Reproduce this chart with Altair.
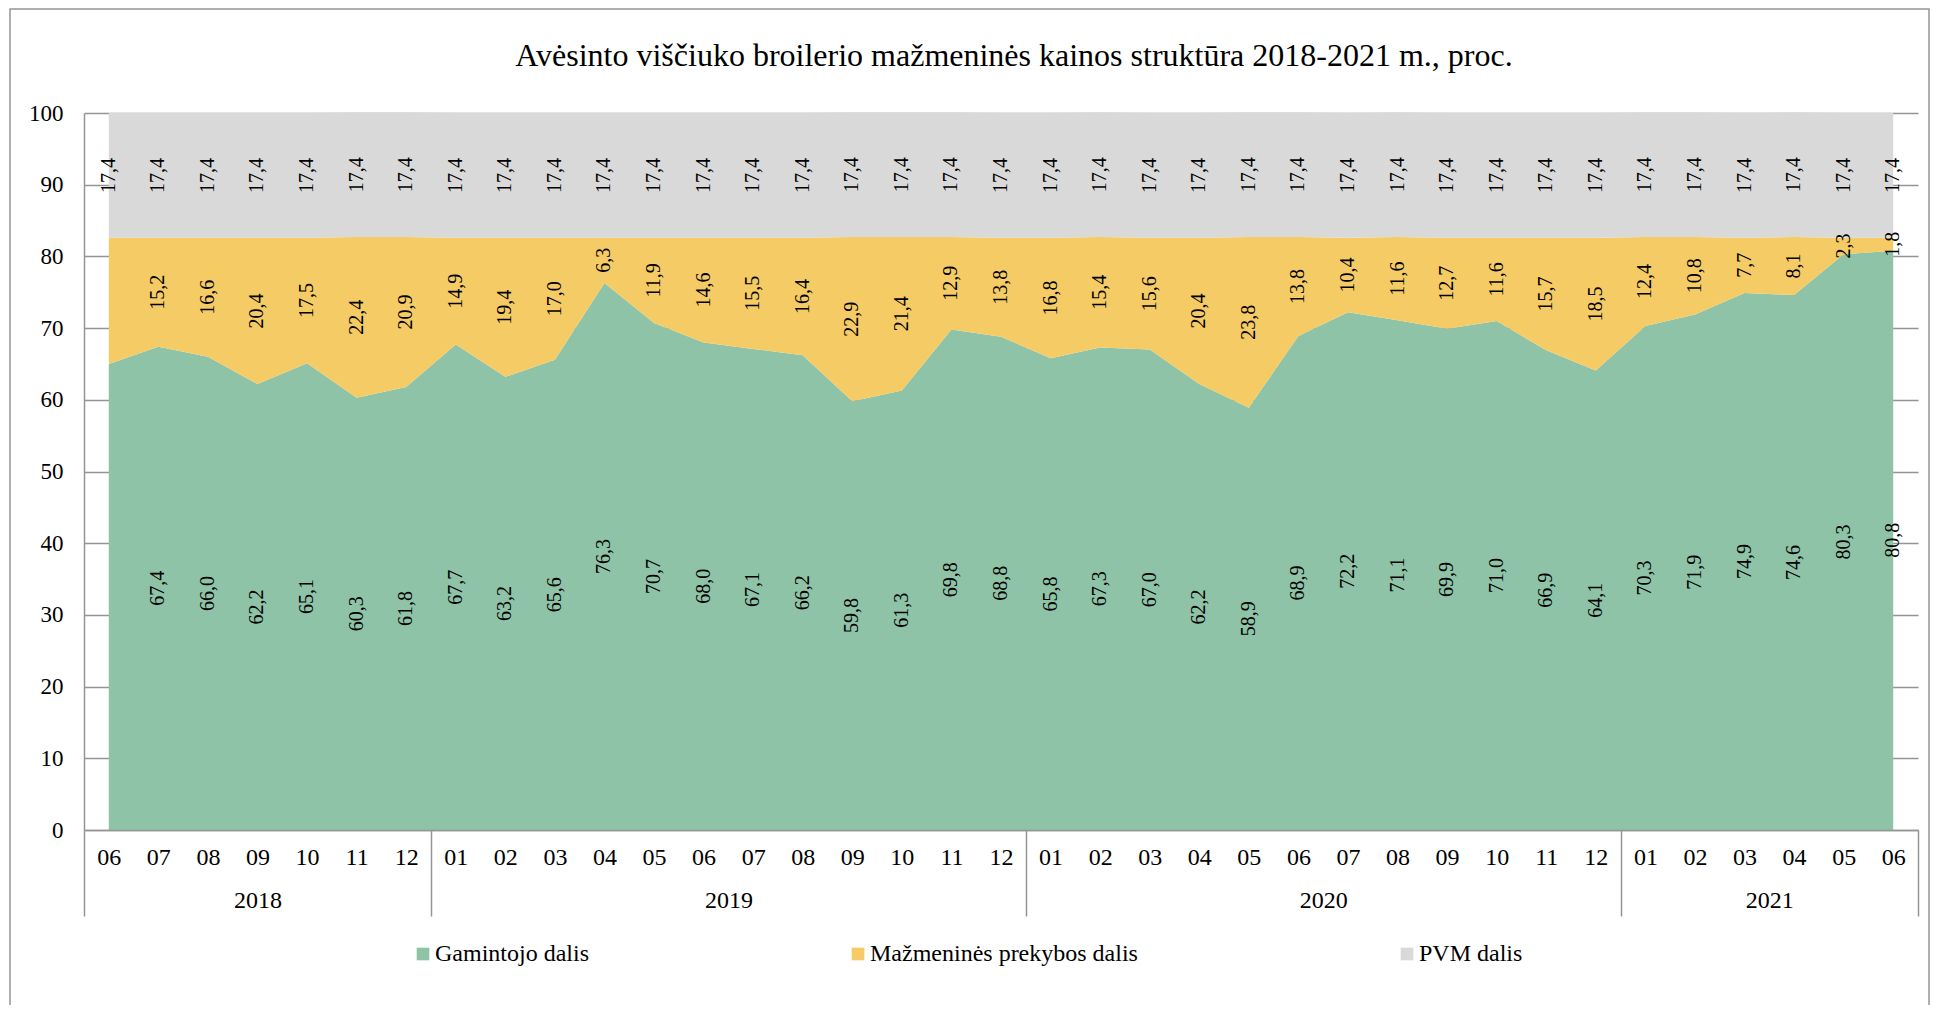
import altair as alt
import pandas as pd

# ---- data ----
periods = [
    "2018-06", "2018-07", "2018-08", "2018-09", "2018-10", "2018-11", "2018-12",
    "2019-01", "2019-02", "2019-03", "2019-04", "2019-05", "2019-06", "2019-07",
    "2019-08", "2019-09", "2019-10", "2019-11", "2019-12",
    "2020-01", "2020-02", "2020-03", "2020-04", "2020-05", "2020-06", "2020-07",
    "2020-08", "2020-09", "2020-10", "2020-11", "2020-12",
    "2021-01", "2021-02", "2021-03", "2021-04", "2021-05", "2021-06",
]
gamintojo = [65.0, 67.4, 66.0, 62.2, 65.1, 60.3, 61.8,
             67.7, 63.2, 65.6, 76.3, 70.7, 68.0, 67.1, 66.2, 59.8, 61.3, 69.8, 68.8,
             65.8, 67.3, 67.0, 62.2, 58.9, 68.9, 72.2, 71.1, 69.9, 71.0, 66.9, 64.1,
             70.3, 71.9, 74.9, 74.6, 80.3, 80.8]
mazmenines = [17.6, 15.2, 16.6, 20.4, 17.5, 22.4, 20.9,
              14.9, 19.4, 17.0, 6.3, 11.9, 14.6, 15.5, 16.4, 22.9, 21.4, 12.9, 13.8,
              16.8, 15.4, 15.6, 20.4, 23.8, 13.8, 10.4, 11.6, 12.7, 11.6, 15.7, 18.5,
              12.4, 10.8, 7.7, 8.1, 2.3, 1.8]
pvm = [17.4, 17.4, 17.4, 17.4, 17.4, 17.4, 17.4,
       17.4, 17.4, 17.4, 17.4, 17.4, 17.4, 17.4, 17.4, 17.4, 17.4, 17.4, 17.4,
       17.4, 17.4, 17.4, 17.4, 17.4, 17.4, 17.4, 17.4, 17.4, 17.4, 17.4, 17.4,
       17.4, 17.4, 17.4, 17.4, 17.4, 17.4]
series_names = ["Gamintojo dalis", "Mažmeninės prekybos dalis", "PVM dalis"]
series_colors = ["#8EC3A7", "#F5CB65", "#D9D9D9"]
years = ["2018", "2019", "2020", "2021"]
months_per_year = [7, 12, 12, 6]
y_ticks = [0, 10, 20, 30, 40, 50, 60, 70, 80, 90, 100]
title_text = "Avėsinto viščiuko broilerio mažmeninės kainos struktūra 2018-2021 m., proc."

# ---- tables built from the lists ----
rows = []
for s_i, (name, vals) in enumerate(zip(series_names, [gamintojo, mazmenines, pvm])):
    for idx, (p, v) in enumerate(zip(periods, vals)):
        rows.append({"period": p, "idx": idx, "xpos": idx + 0.5, "series": name,
                     "value": v, "order": s_i})
df = pd.DataFrame(rows)

starts, centers = [], []
acc = 0
for c in months_per_year:
    starts.append(acc)
    centers.append(acc + c / 2)
    acc += c
total = acc
boundaries = starts + [total]
year_df = pd.DataFrame({"year": years, "center": centers})

month_vals = [i + 0.5 for i in range(len(periods))]
months_js = "[" + ",".join("'" + p[5:] + "'" for p in periods) + "]"
centers_js = "[" + ",".join(str(c) for c in centers) + "]"
years_js = "[" + ",".join("'" + y + "'" for y in years) + "]"
bounds_js = "[" + ",".join(str(b) for b in boundaries) + "]"

SERIF = "Liberation Serif"
GRAY = "#959595"

x_scale = alt.Scale(domain=[0, total], nice=False, zero=False)
y_scale = alt.Scale(domain=[0, 100], nice=False)

y_axis = alt.Axis(
    title=None, orient="left", values=y_ticks, grid=True, gridColor=GRAY,
    gridWidth=1.5, ticks=False, domain=True, domainColor=GRAY, domainWidth=1.5,
    labelFont=SERIF, labelFontSize=23, labelColor="black", labelPadding=21,
)

color = alt.Color(
    "series:N",
    scale=alt.Scale(domain=series_names, range=series_colors),
    legend=alt.Legend(
        title=None, orient="none", direction="horizontal",
        legendX=327, legendY=829, padding=0,
        symbolType="square", symbolSize=160, symbolStrokeWidth=0, symbolOpacity=1,
        labelFont=SERIF, labelFontSize=24, labelColor="black", labelLimit=500,
        labelOffset=0, columnPadding=257,
    ),
)

area = alt.Chart(df).mark_area(opacity=1, strokeWidth=0).encode(
    x=alt.X(
        "xpos:Q", scale=x_scale,
        axis=alt.Axis(
            title=None, orient="bottom", values=month_vals,
            labelExpr=f"{months_js}[floor(datum.value)]", labelAngle=0, ticks=False,
            labelPadding=15, labelFont=SERIF, labelFontSize=24, labelColor="black",
            labelFlush=False, labelOverlap=False,
            domainColor=GRAY, domainWidth=1.5, grid=False, zindex=1,
        ),
    ),
    y=alt.Y("value:Q", stack="zero", scale=y_scale, axis=y_axis),
    color=color,
    order=alt.Order("order:Q"),
)

labels = alt.Chart(df).transform_stack(
    stack="value", groupby=["period"], as_=["y0", "y1"],
    sort=[alt.SortField("order", "ascending")],
).transform_calculate(
    mid="(datum.y0 + datum.y1) / 2",
    label="replace(format(datum.value, '.1f'), '.', ',')",
).transform_filter(
    "datum.idx > 0 || datum.series == 'PVM dalis'"
).mark_text(angle=270, font=SERIF, fontSize=20, color="black").encode(
    x=alt.X("xpos:Q", scale=x_scale, axis=None),
    y=alt.Y("mid:Q", scale=y_scale, axis=y_axis),
    text="label:N",
)

year_axis = alt.Chart(year_df).mark_point(opacity=0).encode(
    x=alt.X(
        "center:Q", scale=x_scale,
        axis=alt.Axis(
            title=None, orient="bottom", values=boundaries + centers,
            domain=False, grid=False, ticks=True, tickSize=86, tickWidth=1.5,
            tickColor=GRAY,
            tickOpacity={"condition": {"test": f"indexof({bounds_js}, datum.value) >= 0", "value": 1}, "value": 0},
            labelExpr=f"indexof({centers_js}, datum.value) >= 0 ? {years_js}[indexof({centers_js}, datum.value)] : ''",
            labelPadding=-28, labelFont=SERIF, labelFontSize=24, labelColor="black",
            labelFlush=False, labelOverlap=False, labelBound=False, labelAngle=0,
        ),
    ),
)

frame = alt.Chart(pd.DataFrame({"f": [0]})).mark_rect(
    filled=False, stroke=GRAY, strokeWidth=1.5
).encode(
    x=alt.value(-74), x2=alt.value(1845), y=alt.value(-104), y2=alt.value(960),
)

chart = alt.layer(area, labels, year_axis, frame).resolve_axis(x="independent").properties(
    width=1834,
    height=717,
    padding={"left": 76, "top": 105, "right": 12, "bottom": 175},
    autosize=alt.AutoSizeParams(type="none"),
    title=alt.Title(
        title_text, font=SERIF, fontSize=32, fontWeight="normal", color="black",
        anchor="middle", baseline="alphabetic", offset=0, dy=90, dx=13,
    ),
).configure_view(stroke=None)

chart.save("out.html", embed_options={"renderer": "svg", "actions": False})
